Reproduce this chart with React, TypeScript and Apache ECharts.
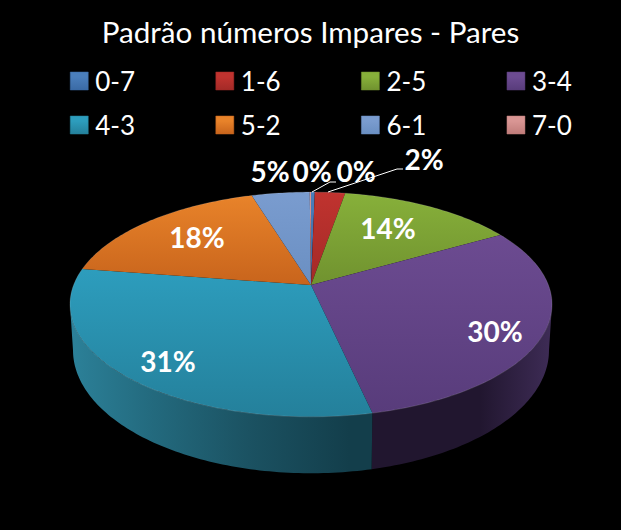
import React, { useEffect, useRef } from "react";
import * as echarts from "echarts";

const chartTitle = "Padrão números Impares - Pares";
const categories = ["0-7", "1-6", "2-5", "3-4", "4-3", "5-2", "6-1", "7-0"];
const shares = [0.3, 2.4, 14.0, 29.9, 30.9, 17.9, 4.6, 0.1];

const topLight = ["#4a7ebb", "#c0332f", "#87b03a", "#6c4b91", "#2d9dbd", "#e8832a", "#7a9ccf", "#d99694"];
const topDark = ["#3a6aa5", "#a32a27", "#70922f", "#583c7b", "#24809b", "#c8641c", "#6a8fc2", "#c07c7a"];
const wallEdge = ["#24406a", "#6a1c1a", "#4d6420", "#3a2a52", "#2c8199", "#a05012", "#4c6c96", "#8a5a58"];
const wallMid = ["#142640", "#3c100f", "#2c3a12", "#21162f", "#133e4b", "#5c2e0a", "#2c3e56", "#503432"];

// Projection of the tilted disc
const CX = 311;
const KEEN = 0.173;
const TOP = { apexY: 285, R: 237.4, B: 109 };
const FLOOR = { apexY: 329, R: 234.4, B: 119.3 };
// The side wall is seen only between the disc's two silhouette angles
const WALL_FROM = 100;
const WALL_TO = 260;

// Hand-placed label anchors, by category order
const labelAnchors: [number, number][] = [
  [356, 171], [424, 159], [388, 228], [495, 331], [168, 361], [197, 237], [270, 171], [312, 171],
];
const leaders: Record<string, [number, number][]> = {
  "0-7": [[312, 192], [330, 182], [336, 182]],
  "1-6": [[328, 192], [397, 169], [403, 169]],
};

const project = (deg: number, p: { apexY: number; R: number; B: number }): [number, number] => {
  const t = (deg * Math.PI) / 180;
  const d = 1 + KEEN * Math.cos(t);
  return [CX + (p.R * Math.sin(t)) / d, p.apexY - (p.B * Math.cos(t)) / d];
};

const arc = (a: number, b: number, p: typeof TOP): [number, number][] => {
  const n = Math.max(2, Math.ceil(Math.abs(b - a)));
  const out: [number, number][] = [];
  for (let i = 0; i <= n; i++) out.push(project(a + ((b - a) * i) / n, p));
  return out;
};

const total = shares.reduce((s, v) => s + v, 0);
const startOf = (i: number) => (shares.slice(0, i).reduce((s, v) => s + v, 0) / total) * 360;
const endOf = (i: number) => (shares.slice(0, i + 1).reduce((s, v) => s + v, 0) / total) * 360;

const renderSlice = (i: number) => () => {
  const a = startOf(i);
  const b = endOf(i);
  const rim = arc(a, b, TOP);
  const shade = (t: number) => echarts.color.lerp(t, [wallEdge[i], wallMid[i]]);
  const wa = Math.max(a, WALL_FROM);
  const wb = Math.min(b, WALL_TO);
  const children: any[] = [
    {
      type: "polygon",
      z2: 1,
      shape: { points: [[CX, TOP.apexY], ...rim] },
      style: {
        fill: {
          type: "linear", x: 0, y: 0, x2: 0, y2: 1,
          colorStops: [
            { offset: 0, color: topLight[i] },
            { offset: 1, color: topDark[i] },
          ],
        },
      },
    },
    {
      type: "polyline",
      z2: 2,
      shape: { points: rim },
      style: { fill: "none", stroke: "rgba(255,255,255,0.14)", lineWidth: 1 },
    },
    {
      type: "text",
      z2: 4,
      x: labelAnchors[i][0],
      y: labelAnchors[i][1],
      style: {
        text: `${Math.round((shares[i] / total) * 100)}%`,
        fill: "#ffffff",
        font: "bold 28px Lato",
        align: "center",
        verticalAlign: "middle",
      },
    },
  ];
  if (wb > wa) {
    children.push({
      type: "polygon",
      z2: 0,
      shape: { points: [...arc(wa, wb, TOP), ...arc(wb, wa, FLOOR)] },
      style: {
        fill: {
          type: "linear", x: 70, y: 0, x2: 552, y2: 0, global: true,
          colorStops: [
            { offset: 0, color: shade(0) },
            { offset: 0.17, color: shade(0.35) },
            { offset: 0.37, color: shade(0.7) },
            { offset: 0.58, color: shade(1) },
            { offset: 0.85, color: shade(1) },
            { offset: 1, color: i === 3 ? "#3e2c56" : shade(0.4) },
          ],
        },
      },
    });
  }
  const leader = leaders[categories[i]];
  if (leader) {
    children.push({
      type: "polyline",
      z2: 3,
      shape: { points: leader },
      style: { fill: "none", stroke: "#ffffff", lineWidth: 1 },
    });
  }
  return { type: "group", children };
};

const legendBase = (names: string[], top: number) => ({
  left: 70,
  top,
  padding: 0,
  orient: "horizontal" as const,
  itemWidth: 18,
  itemHeight: 18,
  itemGap: 80.5,
  selectedMode: false,
  textStyle: { color: "#ffffff", fontFamily: "Lato", fontSize: 26, padding: [0, 0, 0, 2] },
  data: names.map((name) => {
    const i = categories.indexOf(name);
    return {
      name,
      icon: "rect",
      itemStyle: {
        color: {
          type: "linear", x: 0, y: 0, x2: 0, y2: 1,
          colorStops: [
            { offset: 0, color: topLight[i] },
            { offset: 0.28, color: topLight[i] },
            { offset: 1, color: topDark[i] },
          ],
        },
        borderColor: topDark[i],
        borderWidth: 0.5,
      },
    };
  }),
});

export default function App() {
  const ref = useRef<HTMLDivElement>(null);
  useEffect(() => {
    document.body.style.margin = "0";
    document.body.style.background = "#000";
    const chart = echarts.init(ref.current!, undefined, { renderer: "svg" });
    chart.setOption({
      animation: false,
      backgroundColor: "#000000",
      title: {
        text: chartTitle,
        left: "center",
        top: 11,
        textStyle: { color: "#ffffff", fontFamily: "Lato", fontSize: 29.6, fontWeight: "normal" },
      },
      legend: [legendBase(categories.slice(0, 4), 68), legendBase(categories.slice(4), 112)],
      series: categories.map((name, i) => ({
        type: "custom",
        name,
        coordinateSystem: "none",
        silent: true,
        renderItem: renderSlice(i),
        data: [{ name, value: shares[i] }],
      })),
    });
    return () => chart.dispose();
  }, []);
  return <div ref={ref} style={{ width: 621, height: 530 }} />;
}
